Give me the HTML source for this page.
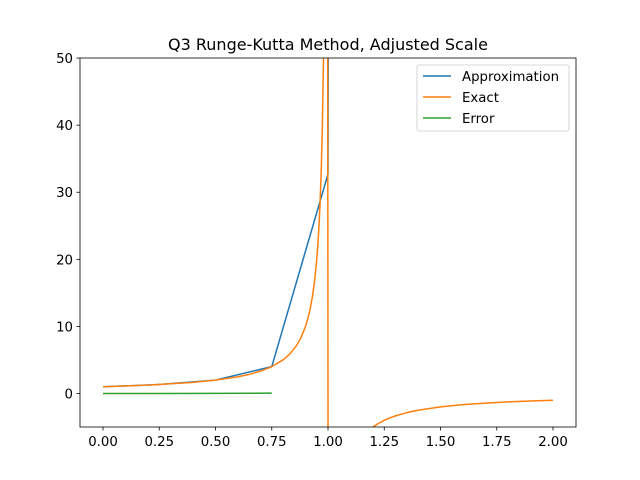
<!DOCTYPE html>
<html><head><meta charset="utf-8"><style>
html,body{margin:0;padding:0;background:#fff;overflow:hidden;width:640px;height:480px}
svg{display:block;position:absolute;left:0;top:0}
svg text{font-family:"DejaVu Sans","Liberation Sans",sans-serif;font-size:13.3px;fill:#000}
</style></head><body>
<svg id="chart" width="640" height="480">
<defs><clipPath id="clip"><rect x="80" y="58" width="496" height="369"/></clipPath></defs>
<rect x="0" y="0" width="640" height="480" fill="#fff"/>
<text x="328" y="50" text-anchor="middle" style="font-size:16px">Q3 Runge-Kutta Method, Adjusted Scale</text>
<g id="ticks"></g>
<g id="series" clip-path="url(#clip)"></g>
<rect x="80" y="58" width="496" height="369" fill="none" stroke="#000" stroke-width="0.8"/>
<g>
<rect x="417" y="65" width="152" height="66" rx="2" fill="#fff" stroke="#ccc" stroke-width="0.8"/>
<line x1="423" y1="76" x2="451" y2="76" stroke="#1f77b4" stroke-width="1.5"/>
<text x="462" y="81">Approximation</text>
<line x1="423" y1="97" x2="451" y2="97" stroke="#ff7f0e" stroke-width="1.5"/>
<text x="462" y="102">Exact</text>
<line x1="423" y1="118" x2="451" y2="118" stroke="#2ca02c" stroke-width="1.5"/>
<text x="462" y="123">Error</text>
</g>
</svg>
<script>
const xTicks=[0,0.25,0.5,0.75,1.0,1.25,1.5,1.75,2.0];
const xTickLabels=["0.00","0.25","0.50","0.75","1.00","1.25","1.50","1.75","2.00"];
const yTicks=[0,10,20,30,40,50];
const yTickLabels=["0","10","20","30","40","50"];
const approxX=[0,0.25,0.5,0.75,1.0,1.25];
const approxY=[1,1.333,2,4,32.7,5000];
const exactX=[0,0.2,0.4,0.5,0.6,0.65,0.7,0.75,0.8,0.83,0.86,0.88,0.9,0.91,0.92,0.93,0.94,0.95,0.955,0.96,0.9648,0.97,0.9749,0.98,0.9849,0.995,1.005,1.0151,1.05,1.1,1.15,1.18,1.2,1.22,1.25,1.28,1.3,1.35,1.4,1.5,1.6,1.7,1.8,1.9,2.0];
const exactY=[1,1.25,1.667,2,2.5,2.857,3.333,4,5,5.882,7.143,8.333,10,11.11,12.5,14.29,16.67,20,22.22,25,28.4,33.3,39.8,50,66.3,199,-199,-66.3,-20,-10,-6.667,-5.556,-5,-4.545,-4,-3.571,-3.333,-2.857,-2.5,-2,-1.667,-1.429,-1.25,-1.111,-1];
const errX=[0,0.25,0.5,0.75];
const errY=[0,0.002,0.01,0.05];
const YMIN=-5,YMAX=50;
const X=v=>103+v*225, Y=v=>393.5-v*6.709;
const NS="http://www.w3.org/2000/svg";
const tk=document.getElementById('ticks'), sg=document.getElementById('series');
function mk(t,a,p){const e=document.createElementNS(NS,t);for(const k in a)e.setAttribute(k,a[k]);p.appendChild(e);return e;}
xTicks.forEach((v,i)=>{
 const l=mk('line',{x1:X(v),x2:X(v),y1:427,y2:430.5,stroke:'#000','stroke-width':0.8},tk);
 
 
 const t=mk('text',{x:X(v),y:446,'text-anchor':'middle'},tk);t.textContent=xTickLabels[i];
 
 
});
yTicks.forEach((v,i)=>{
 const l=mk('line',{x1:76.5,x2:80,y1:Y(v),y2:Y(v),stroke:'#000','stroke-width':0.8},tk);
 
 
 const t=mk('text',{x:73,y:Y(v)+5,'text-anchor':'end'},tk);t.textContent=yTickLabels[i];
 
 
});
// clip each segment to slightly-expanded y range so marks stay inside the frame
function clipSeg(x1,y1,x2,y2){
 const lo=YMIN-0.5,hi=YMAX+0.5;
 if((y1<lo&&y2<lo)||(y1>hi&&y2>hi))return null;
 let t0=0,t1=1;const dy=y2-y1;
 if(dy!==0){
  let ta=(lo-y1)/dy,tb=(hi-y1)/dy;if(ta>tb)[ta,tb]=[tb,ta];
  t0=Math.max(t0,ta);t1=Math.min(t1,tb);
 }
 if(t0>t1)return null;
 return [x1+(x2-x1)*t0,y1+dy*t0,x1+(x2-x1)*t1,y1+dy*t1];
}
function line(xs,ys,c,name){
 let d='',prev=null;
 for(let i=0;i<xs.length-1;i++){
  const s=clipSeg(xs[i],ys[i],xs[i+1],ys[i+1]);
  if(!s){prev=null;continue;}
  const a=X(s[0]).toFixed(2)+','+Y(s[1]).toFixed(2),b=X(s[2]).toFixed(2)+','+Y(s[3]).toFixed(2);
  if(prev!==a)d+='M'+a;
  d+='L'+b;prev=b;
 }
 const p=mk('path',{d:d,fill:'none',stroke:c,'stroke-width':1.5,'stroke-linejoin':'round'},sg);
 
 
}
line(approxX,approxY,'#1f77b4','approximation-line');
line(exactX,exactY,'#ff7f0e','exact-line');
line(errX,errY,'#2ca02c','error-line');
</script>
</body></html>
